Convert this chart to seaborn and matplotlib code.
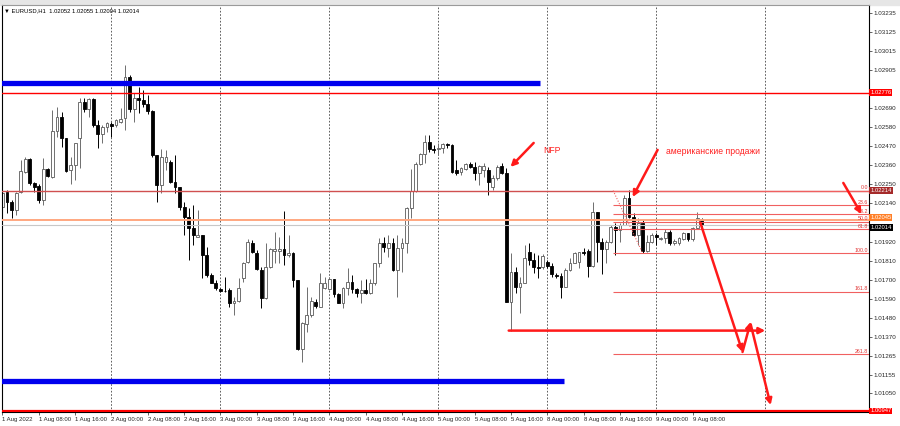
import numpy as np
import pandas as pd
import seaborn as sns
import matplotlib.pyplot as plt
from matplotlib.patches import Rectangle

# EURUSD H1 candles, 1 Aug 2022 00:00 .. 9 Aug 2022 10:00 (one row = 8 hours)
opens = [1.02122, 1.02208, 1.0215, 1.02103, 1.02208, 1.02323, 1.02396, 1.02256,
         1.02241, 1.0216, 1.02337, 1.02294, 1.02557, 1.02639, 1.02515, 1.02333,
         1.02361, 1.02518, 1.02725, 1.02682, 1.02739, 1.02591, 1.0254, 1.02582,
         1.02597, 1.02591, 1.02609, 1.0263, 1.02866, 1.02682, 1.02745, 1.02735,
         1.0271, 1.02673, 1.02419, 1.02246, 1.0238, 1.0238, 1.02265, 1.02233,
         1.02122, 1.02064, 1.01997, 1.01949, 1.01959, 1.01844, 1.01729, 1.01685,
         1.01648, 1.01637, 1.01643, 1.01566, 1.01581, 1.0171, 1.01805, 1.01915,
         1.01857, 1.01758, 1.01595, 1.01777, 1.01869, 1.01867, 1.01877, 1.01844,
         1.01857, 1.017, 1.01302, 1.01445, 1.01501, 1.01572, 1.01547, 1.01656,
         1.01647, 1.01704, 1.0162, 1.01566, 1.01652, 1.0169, 1.01648, 1.01624,
         1.01643, 1.01627, 1.01681, 1.01796, 1.01915, 1.01882, 1.01915, 1.01758,
         1.01882, 1.01915, 1.02112, 1.02212, 1.02365, 1.02423, 1.02495, 1.02452,
         1.02452, 1.02457, 1.0248, 1.02476, 1.02333, 1.02323, 1.02337, 1.02365,
         1.02348, 1.02314, 1.02333, 1.02333, 1.02233, 1.02285, 1.02356, 1.02314,
         1.01575, 1.01748, 1.01662, 1.01685, 1.01863, 1.01815, 1.01777, 1.01773,
         1.01805, 1.01781, 1.01729, 1.01723, 1.01662, 1.01758, 1.018, 1.01803,
         1.01861, 1.01867, 1.01781, 1.02093, 1.0192, 1.01877, 1.0192, 1.02007,
         1.01988, 1.02016, 1.0217, 1.02064, 1.01959, 1.02026, 1.01869, 1.0192,
         1.01959, 1.01938, 1.01943, 1.01978, 1.01915, 1.01911, 1.01934, 1.01969,
         1.01934, 1.01997, 1.02052]
highs = [1.02227, 1.02218, 1.0216, 1.02208, 1.0239, 1.02409, 1.024, 1.02265,
         1.02252, 1.02403, 1.02342, 1.02678, 1.02697, 1.02668, 1.02515, 1.02409,
         1.02486, 1.02745, 1.02745, 1.02745, 1.02745, 1.0262, 1.02591, 1.0261,
         1.0261, 1.02624, 1.02687, 1.02936, 1.02879, 1.02774, 1.02812, 1.02793,
         1.02764, 1.02678, 1.02419, 1.02452, 1.02448, 1.0239, 1.02419, 1.02237,
         1.0215, 1.02112, 1.02131, 1.02103, 1.01959, 1.01892, 1.01739, 1.017,
         1.01652, 1.01719, 1.01652, 1.01604, 1.0171, 1.01805, 1.01934, 1.0193,
         1.01873, 1.01777, 1.01911, 1.01882, 1.01978, 1.01949, 1.02097, 1.01959,
         1.01863, 1.017, 1.0146, 1.01662, 1.01604, 1.01589, 1.01739, 1.01719,
         1.01719, 1.01704, 1.01624, 1.01662, 1.01767, 1.01729, 1.01652, 1.017,
         1.01704, 1.01704, 1.01796, 1.0194, 1.01946, 1.01959, 1.0194, 1.01959,
         1.0194, 1.02122, 1.02337, 1.0238, 1.02429, 1.02534, 1.02534, 1.02476,
         1.02486, 1.02486, 1.02486, 1.02479, 1.0239, 1.02352, 1.02371, 1.0238,
         1.0238, 1.02361, 1.02371, 1.02352, 1.02304, 1.02361, 1.02371, 1.02345,
         1.01854, 1.01777, 1.01719, 1.01901, 1.01911, 1.01854, 1.01844, 1.0185,
         1.01815, 1.01796, 1.01742, 1.01739, 1.01767, 1.01825, 1.01863, 1.01863,
         1.01882, 1.01877, 1.0215, 1.02093, 1.0194, 1.0193, 1.02016, 1.02026,
         1.0203, 1.02189, 1.02218, 1.02084, 1.02055, 1.02045, 1.01959, 1.01969,
         1.01969, 1.01949, 1.01992, 1.01988, 1.01934, 1.01949, 1.01978, 1.01969,
         1.02007, 1.02093, 1.02055]
lows = [1.02093, 1.02084, 1.02055, 1.02074, 1.02199, 1.02314, 1.02246, 1.02208,
        1.02141, 1.02131, 1.02291, 1.02285, 1.02524, 1.02467, 1.02323, 1.02252,
        1.02275, 1.02342, 1.02668, 1.02639, 1.02582, 1.02457, 1.0249, 1.02553,
        1.02524, 1.02582, 1.02601, 1.02563, 1.02668, 1.0261, 1.02659, 1.02697,
        1.02655, 1.02409, 1.0215, 1.02199, 1.02333, 1.02256, 1.02199, 1.02103,
        1.01959, 1.01815, 1.01901, 1.01947, 1.0171, 1.01719, 1.01681, 1.01643,
        1.01633, 1.01633, 1.01547, 1.01499, 1.01575, 1.0169, 1.01796, 1.01854,
        1.01758, 1.01537, 1.01589, 1.01771, 1.01796, 1.01796, 1.01786, 1.01834,
        1.01662, 1.01298, 1.0123, 1.01403, 1.01489, 1.01541, 1.01543, 1.01647,
        1.01643, 1.01604, 1.01566, 1.01537, 1.01614, 1.01624, 1.01604, 1.0157,
        1.0162, 1.0162, 1.01671, 1.01777, 1.01863, 1.01834, 1.01752, 1.01604,
        1.01748, 1.01854, 1.02055, 1.02208, 1.02361, 1.02371, 1.02438, 1.02429,
        1.02419, 1.02429, 1.02457, 1.02314, 1.02304, 1.02304, 1.02333, 1.02342,
        1.02275, 1.02246, 1.02294, 1.02189, 1.02218, 1.02275, 1.0231, 1.01575,
        1.01409, 1.01624, 1.01512, 1.01681, 1.01786, 1.01739, 1.0171, 1.01762,
        1.01767, 1.01719, 1.0171, 1.01595, 1.01658, 1.01754, 1.01796, 1.01767,
        1.01844, 1.01716, 1.01773, 1.01805, 1.01735, 1.01796, 1.01911, 1.01844,
        1.0192, 1.02016, 1.02055, 1.01953, 1.01901, 1.01857, 1.01863, 1.01911,
        1.01901, 1.0193, 1.01911, 1.01901, 1.01901, 1.01901, 1.0193, 1.01926,
        1.01926, 1.01992, 1.02004]
closes = [1.02199, 1.0215, 1.02103, 1.02202, 1.02327, 1.02394, 1.02256, 1.02237,
          1.0216, 1.02337, 1.02298, 1.02557, 1.02639, 1.02515, 1.02329, 1.0236,
          1.02486, 1.02725, 1.02682, 1.02739, 1.02591, 1.02538, 1.02582, 1.02601,
          1.02587, 1.0262, 1.02628, 1.02866, 1.02682, 1.02745, 1.02735, 1.0271,
          1.02673, 1.02419, 1.02246, 1.02406, 1.02406, 1.02265, 1.02233, 1.02122,
          1.02064, 1.01997, 1.01959, 1.01959, 1.01844, 1.01729, 1.01685, 1.01652,
          1.01637, 1.01634, 1.01566, 1.01581, 1.01652, 1.018, 1.0192, 1.01863,
          1.01762, 1.01595, 1.01773, 1.01877, 1.01877, 1.01877, 1.01844, 1.01857,
          1.017, 1.01302, 1.01451, 1.01499, 1.01578, 1.01551, 1.01681, 1.01685,
          1.01704, 1.0162, 1.01566, 1.01652, 1.0169, 1.01648, 1.01627, 1.01643,
          1.01624, 1.01681, 1.01796, 1.01915, 1.01892, 1.01915, 1.01758, 1.01882,
          1.01915, 1.02112, 1.02212, 1.02365, 1.02423, 1.02495, 1.02452, 1.02448,
          1.02457, 1.0248, 1.02476, 1.02319, 1.02314, 1.02342, 1.02365, 1.02348,
          1.02314, 1.02356, 1.02356, 1.02265, 1.02285, 1.02352, 1.02314, 1.01575,
          1.01748, 1.01662, 1.01685, 1.01825, 1.01815, 1.01777, 1.01767, 1.01838,
          1.01781, 1.01733, 1.01723, 1.01662, 1.01758, 1.018, 1.01857, 1.01861,
          1.01854, 1.01781, 1.02093, 1.0192, 1.01877, 1.0192, 1.02007, 1.01988,
          1.02016, 1.0217, 1.02064, 1.01959, 1.02026, 1.01869, 1.0192, 1.01959,
          1.01946, 1.01943, 1.01978, 1.01915, 1.01926, 1.0194, 1.01969, 1.01934,
          1.01997, 1.02055, 1.02014]

time_labels = ['1 Aug 2022', '1 Aug 08:00', '1 Aug 16:00', '2 Aug 00:00', '2 Aug 08:00',
               '2 Aug 16:00', '3 Aug 00:00', '3 Aug 08:00', '3 Aug 16:00', '4 Aug 00:00',
               '4 Aug 08:00', '4 Aug 16:00', '5 Aug 00:00', '5 Aug 08:00', '5 Aug 16:00',
               '8 Aug 00:00', '8 Aug 08:00', '8 Aug 16:00', '9 Aug 00:00', '9 Aug 08:00']
# scale labels that are not hidden behind a price tag
price_ticks = [1.03235, 1.03125, 1.03015, 1.02905, 1.02690, 1.02580, 1.02470,
               1.02360, 1.02250, 1.02140, 1.01920, 1.01810, 1.01700, 1.01590,
               1.01480, 1.01370, 1.01265, 1.01155, 1.01050]

# levels drawn on the chart
blue_top = 1.02833
blue_bottom = 1.01119
red_top = 1.02776
red_mid = 1.02214
orange_level = 1.02045
bid = 1.02014
red_bottom = 1.00947
nfp_low = 1.01409
fib_high = 1.02214
fib_low = 1.01855
fib_levels = [0.0, 23.6, 38.2, 50.0, 61.8, 100.0, 161.8, 261.8]

df = pd.DataFrame({'open': opens, 'high': highs, 'low': lows, 'close': closes})
df['bar'] = np.arange(len(df))
df['bull'] = df['close'] >= df['open']

sns.set_style('white')
plt.rcParams['font.family'] = ['Liberation Sans', 'DejaVu Sans']

fig = plt.figure(figsize=(9, 4.26), dpi=100)
fig.add_artist(Rectangle((0, 1 - 5 / 426), 1, 5 / 426, transform=fig.transFigure,
                         color='#e6e6e6', zorder=0))
ax = fig.add_axes([2 / 900, 14 / 426, 867 / 900, 407 / 426])

# candles
bull = df[df['bull']]
bear = df[~df['bull']]
ax.vlines(bull['bar'], bull['low'], bull['high'], color='#6e6e6e', lw=0.7, zorder=2)
ax.vlines(bear['bar'], bear['low'], bear['high'], color='black', lw=0.7, zorder=2)
ax.bar(bull['bar'], bull['close'] - bull['open'], bottom=bull['open'], width=0.62,
       color='white', edgecolor='#5a5a5a', lw=0.6, zorder=2)
ax.bar(bear['bar'], bear['open'] - bear['close'], bottom=bear['close'], width=0.62,
       color='black', edgecolor='black', lw=0.6, zorder=2)

# day separators
for d in range(24, 170, 24):
    ax.axvline(d, color='#444444', lw=0.6, ls=(0, (2, 2)), zorder=1)

# horizontal objects
ax.hlines(blue_top, -1, 118.5, color='#0000ee', lw=3.8, zorder=3)
ax.hlines(blue_bottom, -1, 123.6, color='#0000ee', lw=3.8, zorder=3)
ax.axhline(red_top, color='#ff0000', lw=1.0, zorder=3)
ax.axhline(red_mid, color='#d05050', lw=1.0, zorder=3)
ax.axhline(orange_level, color='#ffa780', lw=1.4, zorder=3)
ax.axhline(bid, color='#c8c8c8', lw=0.8, zorder=3)
ax.axhline(red_bottom, color='#ff0000', lw=1.6, zorder=3)

# fibonacci
for lvl in fib_levels:
    p = fib_high - (fib_high - fib_low) * lvl / 100
    ax.hlines(p, 134.5, 192, color='#f06060', lw=0.8, zorder=3)
    ax.text(190.6, p + 0.00003, f'{lvl:.1f}', ha='right', va='bottom',
            fontsize=3.8, color='#e03030', zorder=4)
sns.lineplot(x=[134.5, 141.0], y=[fib_high, fib_low], ax=ax, color='#f06060',
             lw=0.8, linestyle=(0, (1, 1.5)), zorder=3)

# arrows and notes
arrow = dict(arrowstyle='-|>', color='#ff1a1a', lw=1.8, mutation_scale=9,
             shrinkA=0, shrinkB=0)
ax.annotate('', xy=(111.9, 1.0235), xytext=(117.0, 1.02488), arrowprops=arrow, zorder=5)
ax.annotate('', xy=(138.8, 1.02177), xytext=(144.3, 1.02448), arrowprops=arrow, zorder=5)
ax.annotate('', xy=(189.2, 1.02079), xytext=(185.2, 1.02258), arrowprops=arrow, zorder=5)
ax.annotate('', xy=(168.0, nfp_low), xytext=(111.5, nfp_low), arrowprops=arrow, zorder=5)
ax.annotate('', xy=(163.0, 1.01286), xytext=(153.7, 1.0203), arrowprops=arrow, zorder=5)
ax.annotate('', xy=(164.8, 1.01459), xytext=(163.0, 1.01286), arrowprops=arrow, zorder=5)
ax.annotate('', xy=(169.2, 1.00981), xytext=(164.8, 1.01445), arrowprops=arrow, zorder=5)
ax.text(119.2, 1.02445, 'NFP', color='#ff2020', fontsize=6.2, va='center', ha='left')
ax.text(146.2, 1.02437, 'американские продажи', color='#ff2020', fontsize=6.2,
        va='center', ha='left')

# axes
ax.set_xlim(-0.11, 190.86)
ax.set_ylim(1.00941, 1.03281)
ax.set_xticks(np.arange(len(time_labels)) * 8)
ax.set_xticklabels(time_labels, ha='left', fontsize=4.3)
ax.yaxis.tick_right()
ax.set_yticks(price_ticks)
ax.set_yticklabels([f'{t:.5f}' for t in price_ticks], fontsize=4.5)
ax.tick_params(axis='x', length=2, width=0.5, pad=1.5, direction='out', bottom=True)
ax.tick_params(axis='y', length=2, width=0.5, pad=1, direction='out', right=True)
for s in ax.spines.values():
    s.set_color('black')
    s.set_linewidth(0.8)
ax.spines['top'].set_color('#9a9a9a')

# price tags on the right scale
ytr = ax.get_yaxis_transform()
tags = [(red_top, '1.02776', '#ff0000', 'center'),
        (red_mid, '1.02214', '#a52a2a', 'center'),
        (orange_level, '1.02045', '#ff7f27', 'bottom'),
        (bid, '1.02014', '#000000', 'top'),
        (red_bottom, '1.00947', '#ff0000', 'center')]
for price, txt, fc, va in tags:
    ax.text(1.0015, price, txt, transform=ytr, fontsize=4.2, color='white', va=va,
            ha='left', clip_on=False, zorder=10,
            bbox=dict(boxstyle='square,pad=0.15', fc=fc, ec='none'))

fig.text(4 / 900, 1 - 11 / 426, '▼ EURUSD,H1  1.02052 1.02055 1.02004 1.02014',
         fontsize=4.2, va='center', ha='left', color='black')

fig.savefig('out.png', dpi=100)
